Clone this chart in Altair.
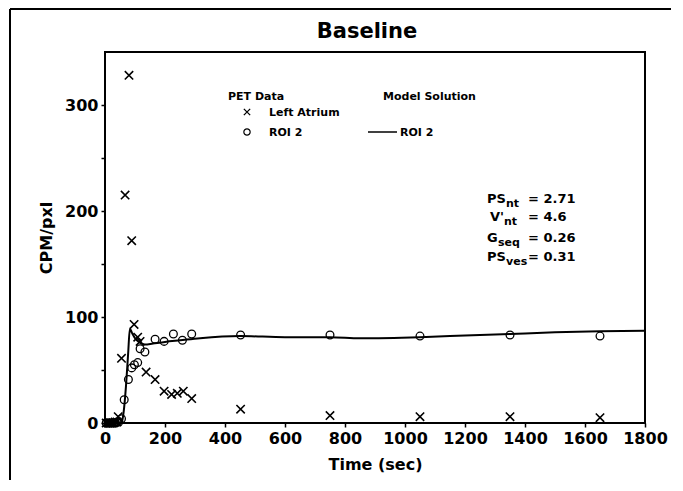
import altair as alt
import pandas as pd

# ---- data ----
la_time = [4, 10, 16, 22, 28, 34, 40, 44, 55, 67, 80, 89, 97, 109, 117, 137, 167, 197, 222, 241, 261, 289, 452, 750, 1050, 1350, 1650]
la_value = [0, 0, 0, 0, 0, 1, 1, 6, 61, 215, 328, 172, 93, 81, 77, 48, 41, 30, 27, 28, 30, 23, 13, 7, 6, 6, 5]

roi_time = [4, 10, 16, 22, 28, 34, 40, 46, 55, 64, 78, 89, 98, 109, 117, 133, 167, 197, 228, 258, 289, 452, 750, 1050, 1350, 1650]
roi_value = [0, 0, 0, 0, 0, 0, 1, 1, 4, 22, 41, 52, 55, 57, 70, 67, 79, 77, 84, 78, 84, 83, 83, 82, 83, 82]

model_time = [0, 50, 56, 62, 70, 77, 83, 90, 100, 115, 133, 160, 200, 250, 317, 450, 600, 750, 850, 1050, 1200, 1350, 1500, 1650, 1800]
model_value = [0, 0, 1, 10, 35, 65, 89, 85, 80, 76, 74, 75, 76.5, 78, 80, 82, 81, 81, 80, 81, 82.5, 84, 85.5, 86.5, 87]

x_ticks = [0, 200, 400, 600, 800, 1000, 1200, 1400, 1600, 1800]
y_ticks = [0, 50, 100, 150, 200, 250, 300]

title_text = "Baseline"
x_title = "Time (sec)"
y_title = "CPM/pxl"
legend_head = ["PET Data", "Model Solution"]
legend_items = ["Left Atrium", "ROI 2", "ROI 2"]
param_main = ["PS", "V'", "G", "PS"]
param_sub = ["nt", "nt", "seq", "ves"]
param_val = ["= 2.71", "= 4.6", "= 0.26", "= 0.31"]

FONT = "DejaVu Sans"
XPATH = "M-1,-1L1,1M-1,1L1,-1"

la_df = pd.DataFrame({"t": la_time, "v": la_value})
roi_df = pd.DataFrame({"t": roi_time, "v": roi_value})
model_df = pd.DataFrame({"t": model_time, "v": model_value})

xs = alt.Scale(domain=[0, 1800], nice=False)
ys = alt.Scale(domain=[0, 350], nice=False)

xax = alt.Axis(values=x_ticks, title=x_title, grid=False, domain=False, format="d",
               tickColor="black", tickWidth=1.5, tickSize=4,
               labelFont=FONT, labelFontWeight="bold", labelFontSize=16, labelColor="black",
               labelPadding=3, labelFlush=False,
               titleFont=FONT, titleFontWeight="bold", titleFontSize=16, titleColor="black",
               titlePadding=10)
yax = alt.Axis(values=y_ticks, title=y_title, grid=False, domain=False,
               tickColor="black", tickWidth=1.5, tickSize=4,
               labelExpr="datum.value % 100 == 0 ? datum.label : ''",
               labelFont=FONT, labelFontWeight="bold", labelFontSize=16, labelColor="black",
               labelPadding=3,
               titleFont=FONT, titleFontWeight="bold", titleFontSize=16, titleColor="black",
               titlePadding=10)

line = alt.Chart(model_df).mark_line(color="black", strokeWidth=2, interpolate="monotone").encode(
    x=alt.X("t:Q", scale=xs, axis=xax),
    y=alt.Y("v:Q", scale=ys, axis=yax),
)
crosses = alt.Chart(la_df).mark_point(shape=XPATH, size=70, color="black", strokeWidth=1.6, filled=False, opacity=1).encode(
    x=alt.X("t:Q", scale=xs), y=alt.Y("v:Q", scale=ys))
circles = alt.Chart(roi_df).mark_point(shape="circle", size=60, color="black", strokeWidth=1.3, filled=False, opacity=1).encode(
    x=alt.X("t:Q", scale=xs), y=alt.Y("v:Q", scale=ys))

one = alt.Data(values=[{"a": 1}])


def txt(s, x, y, size, weight="bold", align="left"):
    return alt.Chart(one).mark_text(align=align, baseline="alphabetic", font=FONT,
                                    fontWeight=weight, fontSize=size, color="black").encode(
        x=alt.value(x), y=alt.value(y), text=alt.value(s))


layers = [line, crosses, circles]

# title
layers.append(txt(title_text, 262, -14, 21, align="center"))

# legend
layers.append(txt(legend_head[0], 123, 48, 11))
layers.append(txt(legend_head[1], 278, 48, 11))
layers.append(txt(legend_items[0], 164, 64, 11))
layers.append(txt(legend_items[1], 164, 84, 11))
layers.append(txt(legend_items[2], 295, 84, 11))
layers.append(alt.Chart(one).mark_point(shape=XPATH, size=40, color="black", strokeWidth=1.3, filled=False, opacity=1).encode(
    x=alt.value(142), y=alt.value(60)))
layers.append(alt.Chart(one).mark_point(shape="circle", size=40, color="black", strokeWidth=1.2, filled=False, opacity=1).encode(
    x=alt.value(142), y=alt.value(80)))
layers.append(alt.Chart(one).mark_rule(color="black", strokeWidth=1.5).encode(
    x=alt.value(263), x2=alt.value(292), y=alt.value(80)))

# parameters
main_x = [382, 385, 382, 382]
sub_x = [401, 399, 393, 401]
base_y = [151, 169, 190, 209]
for i in range(4):
    layers.append(txt(param_main[i], main_x[i], base_y[i], 13))
    layers.append(txt(param_sub[i], sub_x[i], base_y[i] + 4, 11))
    layers.append(txt(param_val[i], 423, base_y[i], 13))

# outer frame
layers.append(alt.Chart(one).mark_rule(color="black", strokeWidth=2).encode(
    x=alt.value(-95), x2=alt.value(566), y=alt.value(-43)))
layers.append(alt.Chart(one).mark_rule(color="black", strokeWidth=2).encode(
    x=alt.value(-95), y=alt.value(-43), y2=alt.value(428)))

chart = alt.layer(*layers).properties(
    width=540, height=371,
    padding={"left": 1, "top": 0, "right": 0, "bottom": 0},
).configure(background="white").configure_view(stroke="black", strokeWidth=2)

chart.save("out.html", embed_options={"renderer": "svg", "actions": False})
